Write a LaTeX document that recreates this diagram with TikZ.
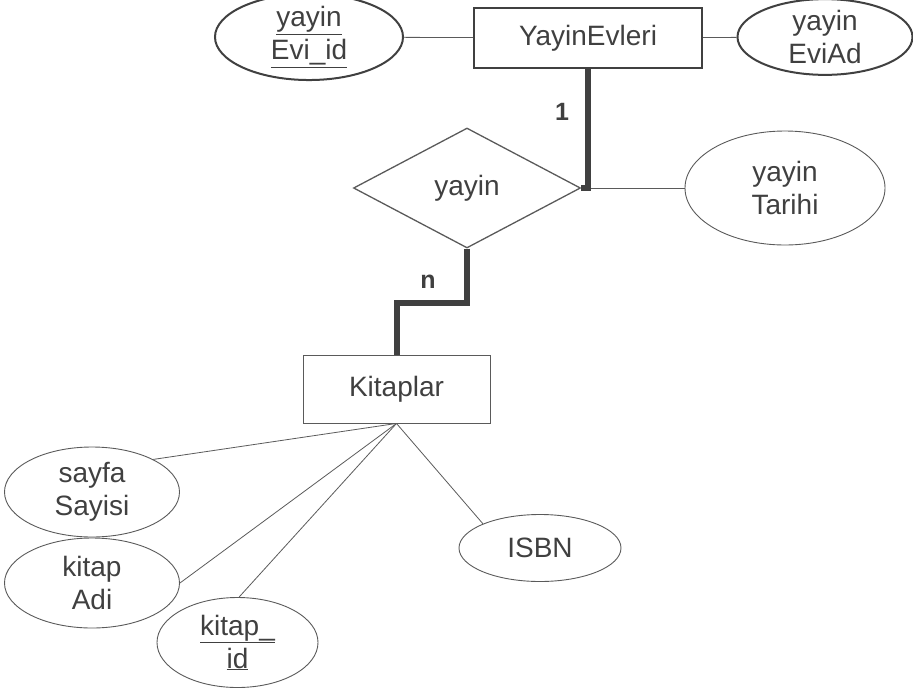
\documentclass[tikz,border=0pt]{standalone}
\usepackage{fontspec}
\setmainfont{Liberation Sans}
\usetikzlibrary{shapes.geometric}
\definecolor{txt}{HTML}{404040}
\definecolor{ln}{HTML}{5A5A5A}
\tikzset{
  every node/.style={text=txt, font=\fontsize{28}{33}\selectfont, align=center, inner sep=0pt},
  entA/.style={draw=txt, line width=2pt, rectangle},
  entB/.style={draw=ln, line width=0.9pt, rectangle},
  attA/.style={draw=txt, line width=2pt, ellipse},
  attB/.style={draw=ln, line width=0.9pt, ellipse},
  rel/.style={draw=txt, line width=6pt},
  thin/.style={draw=ln, line width=0.8pt},
  card/.style={font=\fontsize{25}{28}\selectfont\bfseries, text=txt}
}
\begin{document}
\begin{tikzpicture}[x=1pt,y=-1pt]
\useasboundingbox (0,0) rectangle (913,691);
% entities
\node[entA, minimum width=228pt, minimum height=60pt] (ye) at (588,38) {YayinEvleri};
\node[entB, minimum width=187pt, minimum height=68pt] (k) at (396.5,389) {Kitaplar};
% relationship
\node[draw=ln, line width=1.3pt, diamond, aspect=1.9, minimum width=227pt, minimum height=120pt] (yay) at (467,188) {yayin};
% attributes
\node[attA, minimum width=188pt, minimum height=68pt] (evid) at (309,37) {\underline{yayin}\\\underline{Evi\_id}};
\node[attA, minimum width=175pt, minimum height=69pt] (evad) at (825,37) {yayin\\EviAd};
\node[attB, minimum width=200pt, minimum height=114pt] (tarihi) at (785,188) {yayin\\Tarihi};
\node[attB, minimum width=175pt, minimum height=90pt] (sayfa) at (92,492) {sayfa\\Sayisi};
\node[attB, minimum width=175pt, minimum height=90pt] (adi) at (92,583) {kitap\\Adi};
\node[attB, minimum width=161pt, minimum height=90pt] (kid) at (237.5,642.5) {\underline{kitap\_}\\\underline{id}};
\node[attB, minimum width=162pt, minimum height=67pt] (isbn) at (540,548) {ISBN};
% connectors
\draw[thin] (evid) -- (ye);
\draw[thin] (ye) -- (evad);
\draw[thin] ([xshift=8pt]yay.east) -- (tarihi);
\draw[thin] (k.south) -- (sayfa.28);
\draw[thin] (k.south) -- (adi.east);
\draw[thin] (k.south) -- (kid.88);
\draw[thin] (k.south) -- (isbn.157);
\draw[rel] (yay.east) -| (ye.south);
\draw[rel] (yay.south) -- ++(0,54) -| (k.north);
% cardinalities
\node[card] (c1) at (562,112) {1};
\node[card] (cn) at (428,282) {n};
\end{tikzpicture}
\end{document}
